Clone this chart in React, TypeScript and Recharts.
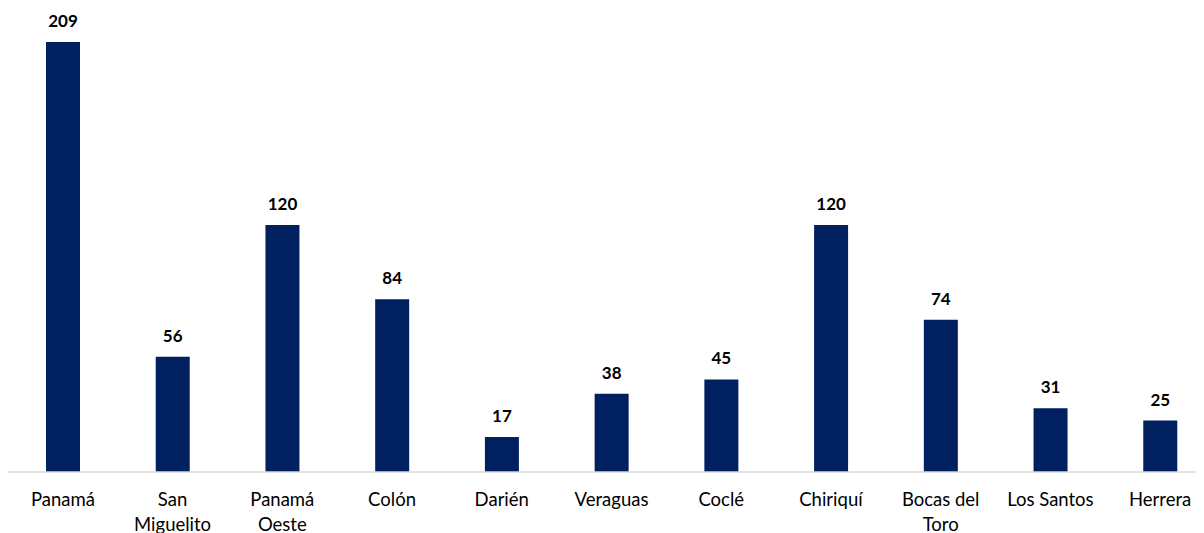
import { BarChart, Bar, XAxis, YAxis, LabelList, Text } from "recharts"

const provincias = [
  "Panamá",
  "San Miguelito",
  "Panamá Oeste",
  "Colón",
  "Darién",
  "Veraguas",
  "Coclé",
  "Chiriquí",
  "Bocas del Toro",
  "Los Santos",
  "Herrera",
]

const casos = [209, 56, 120, 84, 17, 38, 45, 120, 74, 31, 25]

const data = provincias.map((name, i) => ({ name, value: casos[i] }))

const FONT = "Lato, Carlito, Calibri, 'Open Sans', sans-serif"

// labels wrap like Excel: "San / Miguelito", "Bocas del / Toro"
function CategoryTick(props: any) {
  const { x, y, payload } = props
  return (
    <Text
      x={x}
      y={y + 21}
      width={91}
      textAnchor="middle"
      verticalAnchor="start"
      lineHeight={25}
      fill="#000000"
      style={{ fontFamily: FONT, fontSize: 18.5 }}
    >
      {payload.value}
    </Text>
  )
}

export default function App() {
  return (
    <div style={{ width: 1196, height: 525, overflow: "hidden" }}>
      <BarChart
        width={1207}
        height={525}
        data={data}
        margin={{ top: 34, right: 0, bottom: 0, left: 0 }}
        barCategoryGap={0}
      >
        <XAxis
          dataKey="name"
          height={61}
          axisLine={{ stroke: "#d9d9d9", strokeWidth: 1.5 }}
          tickLine={false}
          tickSize={0}
          tickMargin={0}
          interval={0}
          tick={<CategoryTick />}
        />
        <YAxis hide domain={[0, 209]} />
        <Bar dataKey="value" fill="#002060" barSize={34} isAnimationActive={false}>
          <LabelList
            dataKey="value"
            position="top"
            offset={15}
            fill="#000000"
            style={{ fontFamily: FONT, fontSize: 17, fontWeight: 700 }}
          />
        </Bar>
      </BarChart>
    </div>
  )
}
